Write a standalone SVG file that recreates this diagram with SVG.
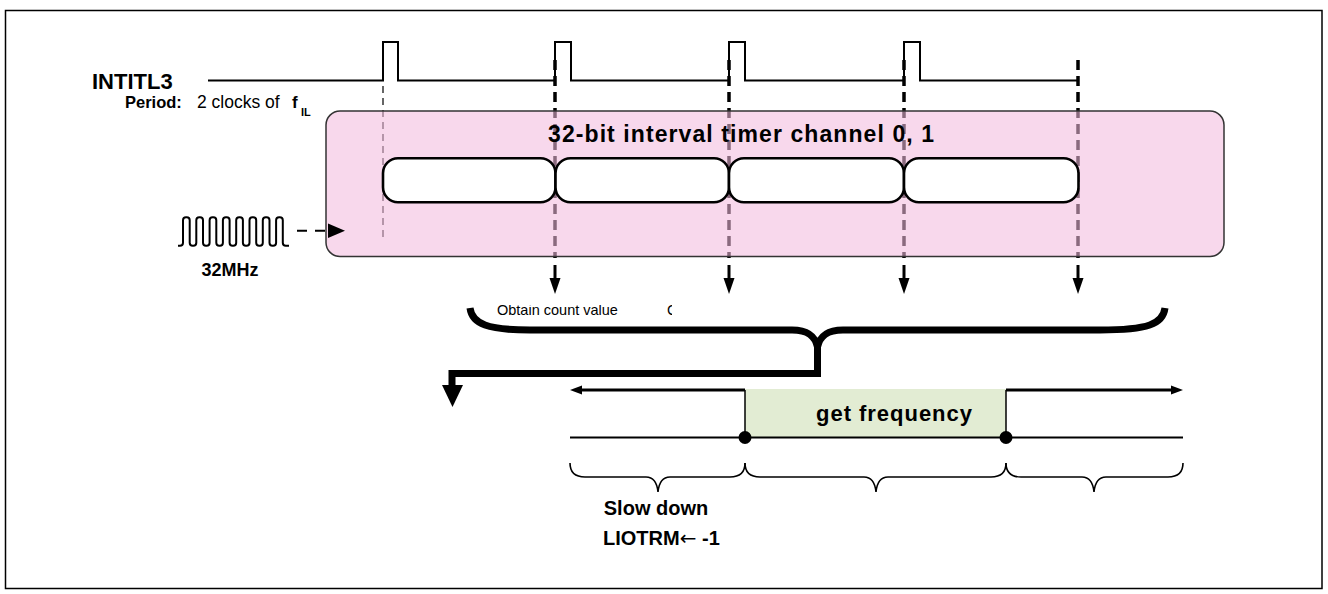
<svg xmlns="http://www.w3.org/2000/svg" width="1328" height="594" viewBox="0 0 1328 594">
<style>
.t{font-family:"Liberation Sans",Arial,sans-serif;fill:#000}
.b{font-weight:bold}
.ln{fill:none;stroke:#000;stroke-width:2}
.dash{fill:none;stroke:#000;stroke-width:3.5;stroke-dasharray:10 6}
.cap{fill:#fff;stroke:#000;stroke-width:2.6}
.brace{fill:none;stroke:#000;stroke-width:1.6}
</style>
<defs>
<clipPath id="clipTxt"><rect x="480" y="305" width="192" height="20"/></clipPath>
</defs>
<rect x="5.5" y="10.5" width="1316.5" height="578" fill="#fff" stroke="#000" stroke-width="1.5"/>

<g id="connectors">
  <line x1="383" y1="62" x2="383" y2="237" stroke="#333" stroke-width="1.5" stroke-dasharray="7 5"/>
  <line class="dash" x1="555" y1="60" x2="555" y2="258"/>
  <line class="dash" x1="729" y1="60" x2="729" y2="258"/>
  <line class="dash" x1="904" y1="60" x2="904" y2="258"/>
  <line class="dash" x1="1078" y1="60" x2="1078" y2="258"/>
</g>

<g id="signal-intitl3">
  <text class="t b" x="92" y="89" font-size="22">INTITL3</text>
  <path class="ln" d="M208,80.5 H383 V42 H398 V80.5 H555 V42 H571 V80.5 H729 V42 H745 V80.5 H904 V42 H920 V80.5 H1078"/>
  <text class="t b" x="125" y="108" style="font-size:16.5px">Period:</text>
  <text class="t" x="197" y="108" style="font-size:17.5px">2 clocks of</text>
  <text class="t b" x="292" y="108" style="font-size:17px">f</text>
  <text class="t b" x="301" y="116" style="font-size:11px">IL</text>
</g>

<g id="timer-box">
  <rect x="326" y="111" width="898" height="145.5" rx="14" fill="rgb(242,186,221)" fill-opacity="0.57" stroke="#333" stroke-width="1.5"/>
  <text class="t b" x="548" y="142" font-size="23" textLength="386" lengthAdjust="spacing">32-bit interval timer channel 0, 1</text>
  <rect id="cap1" class="cap" x="383" y="158.3" width="172.5" height="44" rx="15"/>
  <rect id="cap2" class="cap" x="555.5" y="158.3" width="173.5" height="44" rx="15"/>
  <rect id="cap3" class="cap" x="729" y="158.3" width="175" height="44" rx="15"/>
  <rect id="cap4" class="cap" x="904" y="158.3" width="174.5" height="44" rx="15"/>
</g>

<g id="arrows-down">
  <line x1="555" y1="265" x2="555" y2="281" stroke="#000" stroke-width="3"/>
  <polygon points="549.5,278 560.5,278 555,294"/>
  <line x1="729" y1="265" x2="729" y2="281" stroke="#000" stroke-width="3"/>
  <polygon points="723.5,278 734.5,278 729,294"/>
  <line x1="904" y1="265" x2="904" y2="281" stroke="#000" stroke-width="3"/>
  <polygon points="898.5,278 909.5,278 904,294"/>
  <line x1="1078" y1="265" x2="1078" y2="281" stroke="#000" stroke-width="3"/>
  <polygon points="1072.5,278 1083.5,278 1078,294"/>
</g>

<g id="clock-32mhz">
  <path class="ln" d="M178,245.7 H180 Q183,245.7 183,242.7 V220.3 Q183,217.3 186,217.3 H186.7 Q189.7,217.3 189.7,220.3 V242.7 Q189.7,245.7 192.7,245.7 H193.3 Q196.3,245.7 196.3,242.7 V220.3 Q196.3,217.3 199.3,217.3 H200 Q203,217.3 203,220.3 V242.7 Q203,245.7 206,245.7 H206.6 Q209.6,245.7 209.6,242.7 V220.3 Q209.6,217.3 212.6,217.3 H213.3 Q216.3,217.3 216.3,220.3 V242.7 Q216.3,245.7 219.3,245.7 H219.9 Q222.9,245.7 222.9,242.7 V220.3 Q222.9,217.3 225.9,217.3 H226.6 Q229.6,217.3 229.6,220.3 V242.7 Q229.6,245.7 232.6,245.7 H233.2 Q236.2,245.7 236.2,242.7 V220.3 Q236.2,217.3 239.2,217.3 H239.9 Q242.9,217.3 242.9,220.3 V242.7 Q242.9,245.7 245.9,245.7 H246.5 Q249.5,245.7 249.5,242.7 V220.3 Q249.5,217.3 252.5,217.3 H253.2 Q256.2,217.3 256.2,220.3 V242.7 Q256.2,245.7 259.2,245.7 H259.8 Q262.8,245.7 262.8,242.7 V220.3 Q262.8,217.3 265.8,217.3 H266.5 Q269.5,217.3 269.5,220.3 V242.7 Q269.5,245.7 272.5,245.7 H273.1 Q276.1,245.7 276.1,242.7 V220.3 Q276.1,217.3 279.1,217.3 H279.8 Q282.8,217.3 282.8,220.3 V242.7 Q282.8,245.7 285.8,245.7 H289"/>
  <line x1="297" y1="230.7" x2="328" y2="230.7" stroke="#000" stroke-width="2" stroke-dasharray="10 8"/>
  <polygon points="328,223.5 345,230.7 328,238"/>
  <text class="t b" x="230" y="276" font-size="18" text-anchor="middle">32MHz</text>
</g>

<g id="obtain-label" clip-path="url(#clipTxt)">
  <text class="t" x="497" y="314.5" font-size="14.5">Obtain count value</text>
  <text class="t" x="667" y="314.5" font-size="14.5">C</text>
</g>

<g id="big-brace">
  <path d="M470,308 C472,324 488,330 530,330 H792 C808,330 815,336 817.5,347 C820,336 827,330 843,330 H1100 C1148,330 1163,324 1165,308" fill="none" stroke="#000" stroke-width="7"/>
  <path d="M817.5,343 V373.5 H452 V388" fill="none" stroke="#000" stroke-width="7"/>
  <polygon points="442,385 463,385 452.5,407"/>
</g>

<g id="get-frequency">
  <rect x="745" y="389" width="261" height="48.5" fill="#e2ecd3"/>
  <text class="t b" x="816" y="421" font-size="22" textLength="156" lengthAdjust="spacing">get frequency</text>
  <line x1="745" y1="437.5" x2="745" y2="390" stroke="#000" stroke-width="1.5"/>
  <line x1="745" y1="390" x2="578" y2="390" stroke="#000" stroke-width="3"/>
  <polygon points="570,390 582,385.5 582,394.5"/>
  <line x1="1006" y1="437.5" x2="1006" y2="390" stroke="#000" stroke-width="1.5"/>
  <line x1="1006" y1="390" x2="1175" y2="390" stroke="#000" stroke-width="3"/>
  <polygon points="1183,390 1171,385.5 1171,394.5"/>
  <line x1="570" y1="437.5" x2="1183" y2="437.5" stroke="#000" stroke-width="2"/>
  <circle cx="745" cy="437.5" r="6.5"/>
  <circle cx="1006" cy="437.5" r="6.5"/>
</g>

<g id="lower-braces">
  <path class="brace" d="M570,463 C570,472 574,477 585,477 H646 C653,477 657,482 658,492 C659,482 663,477 670,477 H730 C741,477 745,472 745,463"/>
  <path class="brace" d="M745,463 C745,472 749,477 760,477 H864 C871,477 875,482 876,492 C877,482 881,477 888,477 H991 C1002,477 1006,472 1006,463"/>
  <path class="brace" d="M1006,463 C1006,472 1010,477 1021,477 H1082 C1089,477 1093,482 1094,492 C1095,482 1099,477 1106,477 H1168 C1179,477 1183,472 1183,463"/>
  <text class="t b" x="656" y="515" font-size="20" text-anchor="middle">Slow down</text>
  <text class="t b" x="603" y="545" font-size="20">LIOTRM<tspan font-family="'DejaVu Sans',sans-serif" font-weight="normal">←</tspan> -1</text>
</g>
</svg>
